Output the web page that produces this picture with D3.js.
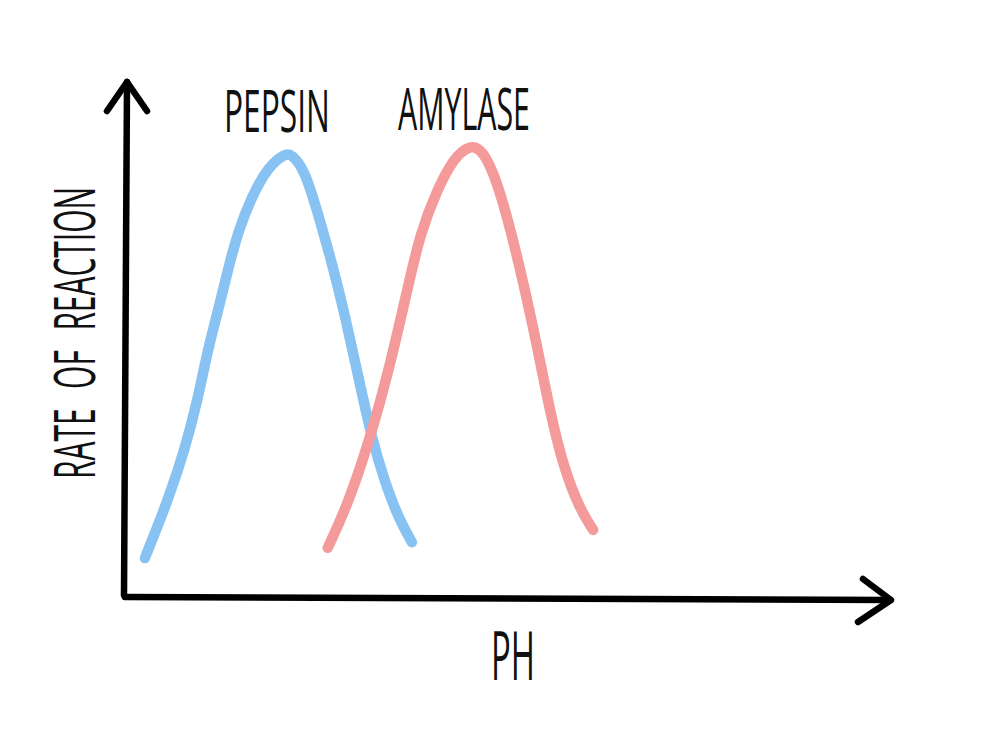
<!DOCTYPE html>
<html>
<head>
<meta charset="utf-8">
<script src="https://cdn.jsdelivr.net/npm/d3@7"></script>
<style>
  html, body { margin: 0; padding: 0; background: #fff; }
  svg { display: block; }
</style>
</head>
<body>
<svg id="chart" width="1000" height="735"></svg>
<script>
// ---- Data (abstract units: x = pH position 0..100, y = rate 0..100) ----
const seriesNames = ["PEPSIN", "AMYLASE"];
const xTitle = "PH";
const yTitle = "RATE OF REACTION";

const pepsinX = [2.6, 3.9, 5.6, 7.8, 9.5, 10.8, 12.2, 13.5, 14.8, 16.6, 18.7, 20.9, 21.8, 23.5, 25.2, 27.1, 28.8, 30.5, 32.3, 34.0, 35.7, 37.5];
const pepsinY = [7.6, 12.5, 18.9, 28.7, 38.5, 48.2, 56.1, 64.2, 71.5, 78.3, 84.0, 86.6, 86.5, 83.4, 75.0, 65.0, 54.7, 43.0, 30.7, 22.3, 15.6, 10.7];

const amylaseX = [26.5, 29.0, 32.0, 34.6, 36.9, 38.6, 40.8, 42.9, 45.1, 46.8, 48.6, 50.3, 52.0, 53.9, 55.6, 57.3, 59.5, 61.2];
const amylaseY = [9.6, 17.6, 30.7, 44.9, 60.0, 71.1, 79.5, 85.6, 88.4, 87.3, 81.3, 72.3, 61.9, 48.8, 35.9, 25.4, 17.0, 13.1];

const seriesColors = ["#88c2f3", "#f49a9a"];

// ---- Layout ----
const svg = d3.select("#chart");
const x = d3.scaleLinear().domain([0, 100]).range([125, 890]);
const y = d3.scaleLinear().domain([0, 100]).range([597, 85]);

const series = [
  { name: seriesNames[0], pts: pepsinX.map((v, i) => [v, pepsinY[i]]), color: seriesColors[0] },
  { name: seriesNames[1], pts: amylaseX.map((v, i) => [v, amylaseY[i]]), color: seriesColors[1] }
];

const line = d3.line()
  .x(d => x(d[0]))
  .y(d => y(d[1]))
  .curve(d3.curveBasis);

// curves
svg.append("g").selectAll("path")
  .data(series)
  .join("path")
  .attr("d", d => line(d.pts))
  .attr("fill", "none")
  .attr("stroke", d => d.color)
  .attr("stroke-width", 10.5)
  .attr("stroke-linecap", "round")
  .attr("stroke-linejoin", "round");

// axes (hand-drawn style arrows)
const axes = svg.append("g")
  .attr("fill", "none")
  .attr("stroke", "#000")
  .attr("stroke-width", 6.5)
  .attr("stroke-linecap", "round")
  .attr("stroke-linejoin", "round");

const x0 = x(0), y0 = y(0), xEnd = x.range()[1], yEnd = y.range()[1];
// y axis
axes.append("path").attr("d", `M${x0 + 2},${yEnd - 3} L${x0 - 1},${y0 - 2}`);
axes.append("path").attr("d", `M${x0 - 18},${yEnd + 26} L${x0 + 2},${yEnd - 3} L${x0 + 22},${yEnd + 26}`);
// x axis
axes.append("path").attr("d", `M${x0},${y0} L${xEnd},${y0 + 3}`);
axes.append("path").attr("d", `M${xEnd - 27},${y0 - 18} L${xEnd + 1},${y0 + 3} L${xEnd - 32},${y0 + 25}`);

// ---- Text ----
const font = "'Open Sans', 'DejaVu Sans Condensed', sans-serif";
function label(txt, cx, baseline, width, size, rotate, wordSpacing) {
  const g = svg.append("g");
  const t = g.append("text")
    .attr("x", 0).attr("y", 0)
    .attr("text-anchor", "middle")
    .attr("font-family", font)
    .attr("font-weight", 400)
    .attr("font-size", size)
    .attr("word-spacing", wordSpacing || 0)
    .attr("fill", "#111")
    .text(txt);
  const natural = t.node().getComputedTextLength() || width;
  const sx = width / natural;
  g.attr("transform", `translate(${cx},${baseline})` + (rotate ? " rotate(-90)" : "") + ` scale(${sx},1)`);
}
// series labels above peaks
label(series[0].name, 277, 132, 106, 58, false);
label(series[1].name, 464, 130, 132, 58, false);
// axis titles
label(xTitle, 513, 680, 44, 67, false);
label(yTitle, 95, 333, 292, 56, true, 22);
</script>
</body>
</html>
